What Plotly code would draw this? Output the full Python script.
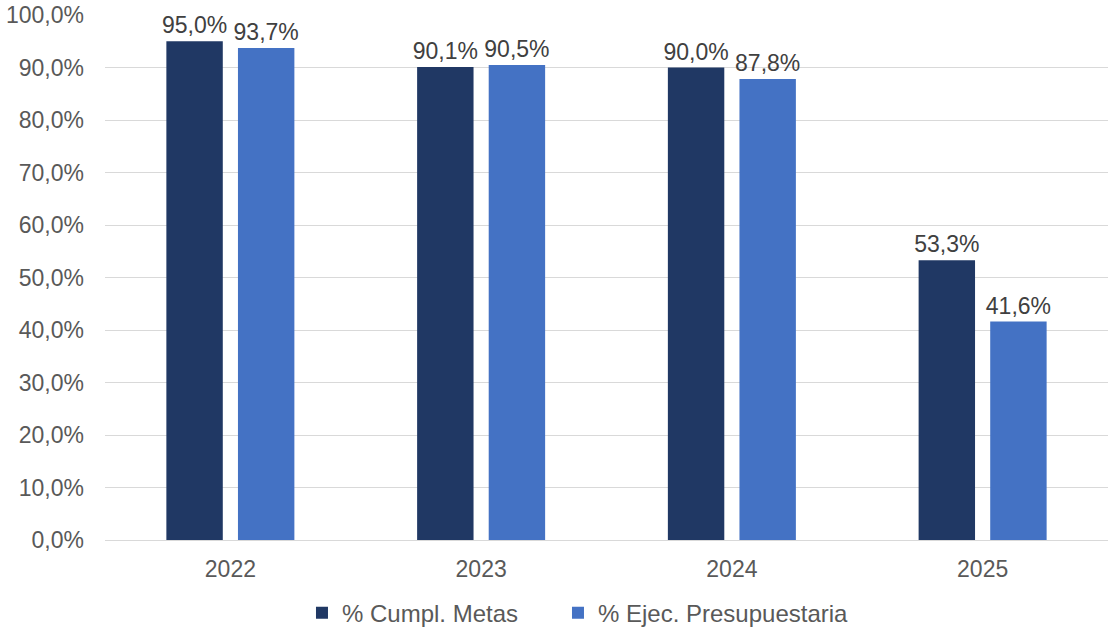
import plotly.graph_objects as go

years = ["2022", "2023", "2024", "2025"]
cumpl_metas = [95.0, 90.1, 90.0, 53.3]
ejec_presup = [93.7, 90.5, 87.8, 41.6]
series_names = ["% Cumpl. Metas", "% Ejec. Presupuestaria"]
colors = ["#203864", "#4472C4"]
legend_widths = [211, 300]

FONT = "Liberation Sans, Arial, sans-serif"

fig = go.Figure()
for name, vals, col, lw in zip(series_names, [cumpl_metas, ejec_presup], colors, legend_widths):
    fig.add_trace(go.Bar(
        x=years, y=vals, name=name,
        marker=dict(color=col, line=dict(width=10, color="rgba(0,0,0,0)")),
        texttemplate="%{y:.1f}%", textposition="outside",
        textfont=dict(family=FONT, size=23, color="#404040"),
        constraintext="none",
        cliponaxis=False,
        legendwidth=lw,
    ))

fig.update_layout(
    width=1110, height=627,
    margin=dict(l=105, r=2, t=15, b=87, autoexpand=False),
    plot_bgcolor="white", paper_bgcolor="white",
    separators=",.",
    barmode="group", bargap=0.429, bargroupgap=0.212,
    font=dict(family=FONT, size=23, color="#595959"),
    showlegend=True,
    legend=dict(orientation="h", x=0.496, xanchor="center",
                yref="container", y=0.022, yanchor="middle",
                font=dict(family=FONT, size=24, color="#595959"),
                traceorder="normal"),
)
fig.update_yaxes(range=[0, 100], dtick=10, tickformat=".1f", ticksuffix="%",
                 showgrid=True, gridcolor="#d9d9d9", gridwidth=1.3,
                 zeroline=False, showline=False, ticks="", ticklabelstandoff=20,
                 tickfont=dict(family=FONT, size=23, color="#595959"))
fig.update_xaxes(showline=True, linecolor="#d9d9d9", linewidth=1.3, ticks="",
                 tickfont=dict(family=FONT, size=23, color="#595959"),
                 ticklabelstandoff=8)

fig.write_html("out.html")
